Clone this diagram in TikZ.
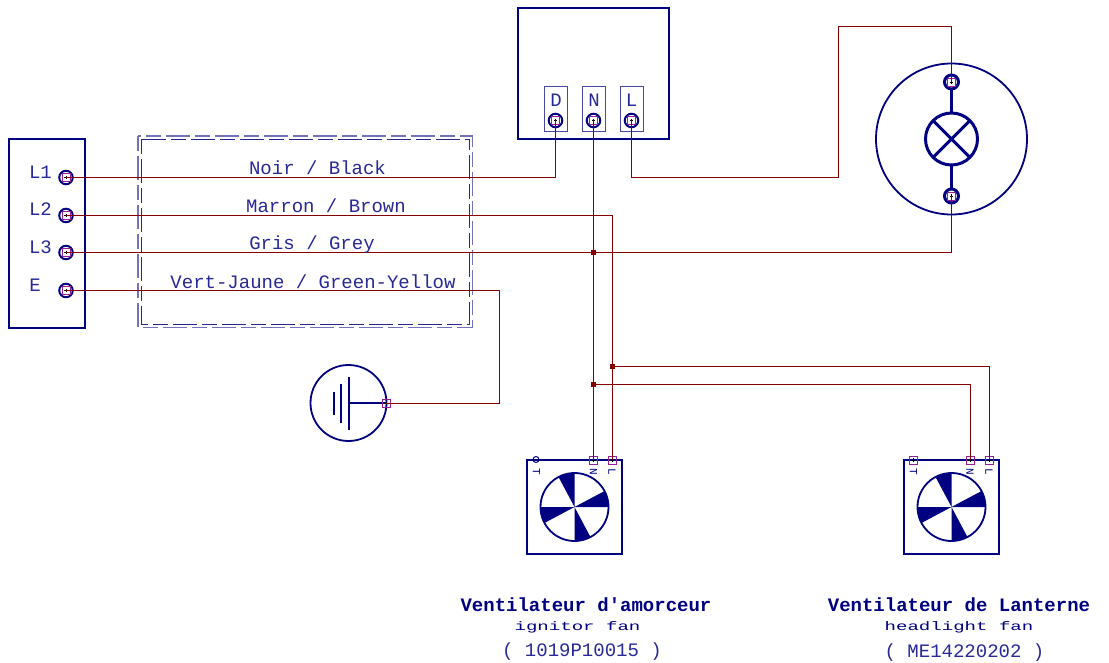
\documentclass[tikz,border=0pt]{standalone}
\usepackage{fontspec}
\usepackage{xcolor}
\setmonofont{Liberation Mono}
\newfontfamily\cadsmall[FakeStretch=1.55]{Liberation Mono}
\usetikzlibrary{positioning}
\definecolor{cadblue}{RGB}{0,0,128}
\definecolor{cadtext}{RGB}{40,40,150}
\definecolor{cadwire}{RGB}{132,0,0}
\definecolor{cadpad}{RGB}{150,30,150}
\tikzset{
  box/.style={draw=cadblue, line width=2pt, rectangle, inner sep=0pt, outer sep=0pt},
  slot/.style={draw=cadtext!85, line width=1pt, rectangle, inner sep=0pt, outer sep=0pt, minimum width=23pt, minimum height=45pt},
  term/.style={draw=cadblue, line width=2pt, circle, inner sep=0pt, outer sep=0pt, minimum size=13.5pt},
  termb/.style={term, line width=3pt, fill=white},
  pad/.style={draw=cadpad, line width=0.9pt, rectangle, inner sep=0pt, outer sep=0pt, minimum size=8pt,
    path picture={\draw[black, line width=0.6pt] ([xshift=-1.6pt]path picture bounding box.center) -- ([xshift=1.6pt]path picture bounding box.center)
      ([yshift=-1.6pt]path picture bounding box.center) -- ([yshift=1.6pt]path picture bounding box.center);}},
  wire/.style={draw=cadwire, line width=1pt},
  junc/.style={fill=cadwire, rectangle, inner sep=0pt, outer sep=0pt, minimum size=5pt},
  lbl/.style={font=\ttfamily\fontsize{19}{19}\selectfont, text=cadtext, inner sep=0pt},
  title/.style={font=\ttfamily\bfseries\fontsize{19}{19}\selectfont, text=cadblue, inner sep=0pt},
  sub/.style={font=\cadsmall\fontsize{12.3}{12}\selectfont, text=cadblue, inner sep=0pt},
  pin/.style={font=\ttfamily\fontsize{11}{11}\selectfont, text=cadblue, inner sep=0pt, rotate=-90},
  fanwheel/.style={draw=cadblue, line width=1.8pt, circle, inner sep=0pt, outer sep=0pt, minimum size=68pt},
  fanbox/.style={box, minimum width=95pt, minimum height=94pt},
  sheath/.style={draw=cadtext!65, line width=1.3pt, dash pattern=on 15pt off 5pt on 24pt off 5pt}
}
\begin{document}
\begin{tikzpicture}[x=1pt,y=-1pt]
\useasboundingbox (0,0) rectangle (1109,663);

% terminal strip
\node[box, minimum width=76pt, minimum height=189pt] (strip) at (47,233.5) {};
\node[lbl] (tl1) at (40.5,172) {L1};
\node[lbl] (tl2) at (40.5,209) {L2};
\node[lbl] (tl3) at (40.5,247) {L3};
\node[lbl] (te) at (35,285) {E};

% sheath
\draw[sheath] (138,136) rectangle (472.5,327.5);
\draw[sheath, draw=cadblue!85, line width=0.9pt] (141.5,139.5) rectangle (469,324);

% junction box
\node[box, minimum width=151pt, minimum height=131pt] (jbox) at (593.5,73.5) {};
\node[slot] (sd) at (555.5,109.5) {};
\node[slot] (sn) at (593.5,109.5) {};
\node[slot] (sl) at (631.5,109.5) {};
\node[lbl] (td) at (556,100) {D};
\node[lbl] (tn) at (594,100) {N};
\node[lbl] (tl) at (631.5,100) {L};

% lamp
\node[draw=cadblue, line width=1.8pt, circle, inner sep=0pt, outer sep=0pt, minimum size=151pt] (lamp) at (951.5,139) {};
\node[draw=cadblue, line width=3pt, circle, inner sep=0pt, outer sep=0pt, minimum size=52pt] (bulb) at (951.5,139) {};
\draw[cadblue, line width=3pt] (bulb.45) -- (bulb.225) (bulb.135) -- (bulb.315);
\coordinate (lt) at (951.5,82);
\coordinate (lb) at (951.5,196);
\draw[cadblue, line width=3pt] (lt) -- (bulb.north) (bulb.south) -- (lb);

% earth
\node[draw=cadblue, line width=1.8pt, circle, inner sep=0pt, outer sep=0pt, minimum size=76pt] (earth) at (348.5,403) {};
\draw[cadblue, line width=2pt] (349,377) -- (349,430);
\draw[cadblue, line width=2pt] (341,384) -- (341,423);
\draw[cadblue, line width=2pt] (333.5,392) -- (333.5,415);
\draw[cadblue, line width=2pt] (349,403) -- (earth.east);

% fans
\node[fanbox] (fana) at (574.5,507) {};
\node[fanwheel] (wheela) at (574.5,507) {};
\node[fanbox] (fanb) at (951.5,507) {};
\node[fanwheel] (wheelb) at (951.5,507) {};
\foreach \w in {wheela,wheelb}
  \foreach \a in {0,90,180,270}
    \fill[cadblue] (\w.center) -- (\w.\a) arc[start angle=\a, delta angle=28, radius=34pt] -- cycle;

% terminals
\foreach \n/\x/\y in {l1/66/177.5, l2/66/215.5, l3/66/252.5, le/66/290.5, d/555.5/120.5, n/593.5/120.5, l/631.5/120.5}
  \node[term] (\n) at (\x,\y) {};
\node[termb, minimum size=14pt] (up) at (lt) {};
\node[termb, minimum size=14pt] (lo) at (lb) {};
\node[draw=cadblue, line width=1pt, circle, inner sep=0pt, minimum size=6pt] (ta) at (536,459.5) {};
\node[inner sep=0pt, minimum size=0pt] (na) at (593.5,460) {};
\node[inner sep=0pt, minimum size=0pt] (la) at (612,460) {};
\node[inner sep=0pt, minimum size=0pt] (tb) at (913.5,460) {};
\node[inner sep=0pt, minimum size=0pt] (nb) at (970,460) {};
\node[inner sep=0pt, minimum size=0pt] (lc) at (989,460) {};
\node[inner sep=0pt, minimum size=0pt] (gnd) at (386,403.5) {};

% junctions
\node[junc] (j1) at (593.5,252.5) {};
\node[junc] (j2) at (612,366.5) {};
\node[junc] (j3) at (593.5,384.5) {};

% pads
\foreach \t in {l1,l2,l3,le,d,n,l,up,lo,na,la,tb,nb,lc,gnd}
  \node[pad] at (\t) {};

% wires
\draw[wire] (l1.center) -| (d.center);
\draw[wire] (l2.center) -| (la.center);
\draw[wire] (l3.center) -| (lo.center);
\draw[wire] (le.center) -| (499,403.5) -- (gnd.center);
\draw[wire] (n.center) -- (na.center);
\draw[wire] (l.center) |- (838,177.5) |- (951.5,27) -- (up.center);
\draw[wire] (j2) -| (lc.center);
\draw[wire] (j3) -| (nb.center);

% wire labels
\node[lbl] (black) at (317.5,168) {Noir / Black};
\node[lbl] (brown) at (326,206) {Marron / Brown};
\node[lbl] (grey) at (312,245) {Gris / Grey};
\node[lbl] (gy) at (313,282) {Vert-Jaune / Green-Yellow};

% pin labels
\node[pin] (pta) at (536.5,471.5) {T};
\node[pin] (pna) at (593.5,471.5) {N};
\node[pin] (pla) at (612,471.5) {L};
\node[pin] (ptb) at (913.5,471.5) {T};
\node[pin] (pnb) at (970,471.5) {N};
\node[pin] (plc) at (989,471.5) {L};

% captions
\node[title] (capa) at (586,605) {Ventilateur d'amorceur};
\node[sub] (suba) at (577.5,627) {ignitor fan};
\node[lbl] (refa) at (582,652) {( 1019P10015 )};
\node[title] (capb) at (959,605) {Ventilateur de Lanterne};
\node[sub] (subb) at (959,627) {headlight fan};
\node[lbl] (refb) at (964.5,653) {( ME14220202 )};
\end{tikzpicture}
\end{document}
